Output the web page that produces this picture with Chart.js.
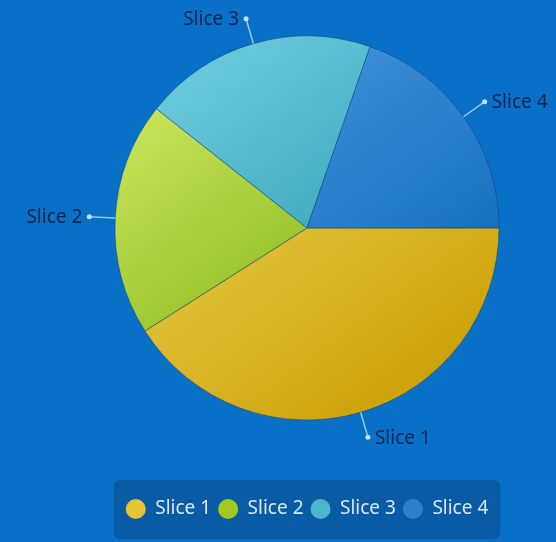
<!DOCTYPE html>
<html>
<head>
<meta charset="utf-8">
<title>Pie chart</title>
<script src="https://cdn.jsdelivr.net/npm/chart.js@4.4.0/dist/chart.umd.min.js"></script>
<style>
  html, body { margin: 0; padding: 0; background: #0970c8; }
  #wrap { width: 556px; height: 542px; }
</style>
</head>
<body>
<div id="wrap"><canvas id="my-chart"></canvas></div>
<script>
// data
const sliceLabels = ["Slice 1", "Slice 2", "Slice 3", "Slice 4"];
const sliceValues = [25, 12, 12, 12];

// colours per slice (light top-left, dark bottom-right)
const lightColors = ["#ecd452", "#c8e45a", "#68c8da", "#4898de"];
const darkColors = ["#cda20a", "#70a806", "#2292ac", "#0a66b8"];
const legendColors = ["#e6c436", "#a2ca1e", "#4cb6ca", "#2a80cc"];

function sliceFill(context) {
  const chart = context.chart;
  const area = chart.chartArea;
  const i = context.dataIndex;
  if (!area) return legendColors[i];
  const cx = (area.left + area.right) / 2;
  const cy = (area.top + area.bottom) / 2;
  const r = 192;
  const g = chart.ctx.createLinearGradient(cx - r * 0.6, cy - r * 0.8, cx + r * 0.6, cy + r * 0.8);
  g.addColorStop(0, lightColors[i]);
  g.addColorStop(1, darkColors[i]);
  return g;
}

// background + rounded legend panel
const backdrop = {
  id: "backdrop",
  beforeDraw(chart) {
    const ctx = chart.ctx;
    ctx.save();
    ctx.fillStyle = "#0970c8";
    ctx.fillRect(0, 0, chart.width, chart.height);
    const boxes = chart.legend && chart.legend.legendHitBoxes;
    if (boxes && boxes.length) {
      const first = boxes[0];
      const last = boxes[boxes.length - 1];
      const left = first.left - 12;
      const right = last.left + last.width + 12;
      const mid = first.top + first.height / 2;
      ctx.fillStyle = "#0a5ba6";
      ctx.beginPath();
      ctx.roundRect(left, mid - 29, right - left, 59, 6);
      ctx.fill();
    }
    ctx.restore();
  }
};

// outside labels with leader lines
const sliceCallouts = {
  id: "sliceCallouts",
  afterDatasetsDraw(chart) {
    const ctx = chart.ctx;
    const meta = chart.getDatasetMeta(0);
    ctx.save();
    ctx.font = "19px 'Noto Sans', sans-serif";
    ctx.textBaseline = "middle";
    meta.data.forEach((arc, i) => {
      const p = arc.getProps(["x", "y", "startAngle", "endAngle", "outerRadius"], true);
      const mid = (p.startAngle + p.endAngle) / 2;
      const cos = Math.cos(mid), sin = Math.sin(mid);
      const x1 = p.x + cos * p.outerRadius, y1 = p.y + sin * p.outerRadius;
      const x2 = p.x + cos * (p.outerRadius + 26), y2 = p.y + sin * (p.outerRadius + 26);
      ctx.strokeStyle = "#9cc6ea";
      ctx.lineWidth = 1.5;
      ctx.beginPath();
      ctx.moveTo(x1, y1);
      ctx.lineTo(x2, y2);
      ctx.stroke();
      ctx.fillStyle = "#c8e0f4";
      ctx.beginPath();
      ctx.arc(x2, y2, 2.5, 0, Math.PI * 2);
      ctx.fill();
      ctx.fillStyle = "#08264f";
      if (cos >= 0) {
        ctx.textAlign = "left";
        ctx.fillText(sliceLabels[i], x2 + 7, y2 + 1);
      } else {
        ctx.textAlign = "right";
        ctx.fillText(sliceLabels[i], x2 - 7, y2 + 1);
      }
    });
    ctx.restore();
  }
};

const ctx = document.getElementById("my-chart").getContext("2d");
const chart = new Chart(ctx, {
  type: "pie",
  data: {
    labels: sliceLabels,
    datasets: [
      {
        data: sliceValues,
        backgroundColor: sliceFill,
        borderColor: "rgba(10, 60, 110, 0.45)",
        borderWidth: 1,
        hoverOffset: 0
      }
    ]
  },
  options: {
    responsive: true,
    maintainAspectRatio: false,
    animation: false,
    rotation: 90,
    radius: 192,
    layout: { padding: { left: 58, right: 0, top: 36, bottom: 13.5 } },
    plugins: {
      tooltip: { enabled: false },
      legend: {
        position: "bottom",
        title: { display: true, text: "", font: { size: 10 }, padding: { top: 0, bottom: 60.5 } },
        labels: {
          color: "#dbe9f6",
          font: { family: "'Noto Sans', sans-serif", size: 19 },
          usePointStyle: true,
          pointStyleWidth: 20,
          boxHeight: 14.14,
          padding: 7,
          generateLabels(chart) {
            return sliceLabels.map((label, i) => ({
              text: label,
              fillStyle: legendColors[i],
              strokeStyle: "rgba(0,0,0,0)",
              lineWidth: 0,
              pointStyle: "circle",
              fontColor: "#dbe9f6",
              index: i,
              hidden: false
            }));
          }
        }
      }
    }
  },
  plugins: [backdrop, sliceCallouts]
}); // closes chart
</script>
</body>
</html>
